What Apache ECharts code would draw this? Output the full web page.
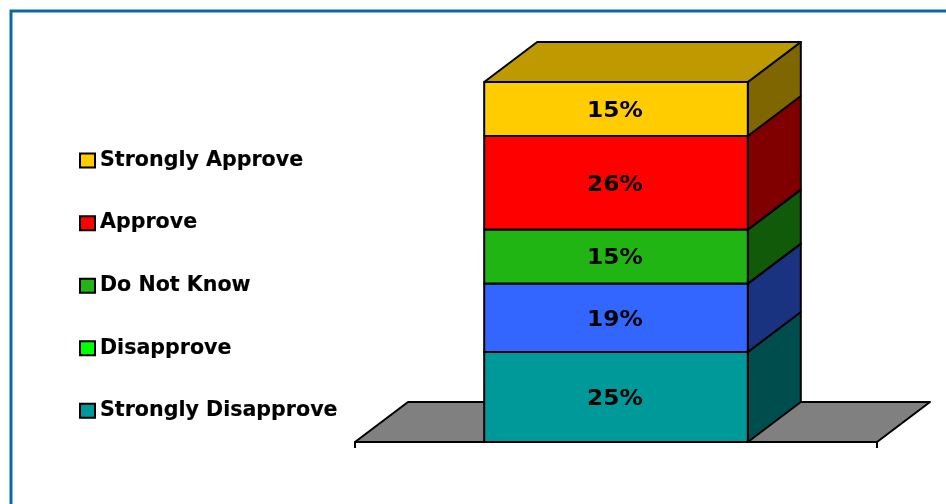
<!DOCTYPE html>
<html>
<head>
<meta charset="utf-8">
<style>html,body{margin:0;padding:0;background:#fff}#c{width:946px;height:504px}</style>
<script src="https://cdn.jsdelivr.net/npm/echarts@6/dist/echarts.min.js"></script>
</head>
<body>
<div id="c"></div>
<script>
const categories = ['Opinion'];
const seriesNames = ['Strongly Disapprove', 'Disapprove', 'Do Not Know', 'Approve', 'Strongly Approve'];
const seriesValues = [25, 19, 15, 26, 15];
const faceColors = ['#009999', '#3366FF', '#20B512', '#FF0000', '#FFCC00'];
const sideColors = ['#004D4D', '#1A3380', '#105A09', '#800000', '#806600'];
const legendColors = ['#009999', '#00FF00', '#20B512', '#FF0000', '#FFCC00'];
const topColor = '#BF9900';
const floorColor = '#808080';
const legendOrder = ['Strongly Approve', 'Approve', 'Do Not Know', 'Disapprove', 'Strongly Disapprove'];

const DX = 53, DY = -40, BAR_RATIO = 0.505;
const line = { stroke: '#000', lineWidth: 2, lineJoin: 'round' };
const FONT = '"DejaVu Sans", Verdana, sans-serif';

function floorItem(params, api) {
  const c = api.coord([0, 0]);
  const w = api.size([1, 0])[0];
  const l = c[0] - w / 2, r = c[0] + w / 2, y = c[1];
  return {
    type: 'polygon',
    shape: { points: [[l, y], [l + DX, y + DY], [r + DX, y + DY], [r, y]] },
    style: Object.assign({ fill: floorColor }, line)
  };
}

function blockItem(idx, isTop) {
  return function (params, api) {
    const c0 = api.coord([0, api.value(1)]);
    const c1 = api.coord([0, api.value(2)]);
    const w = api.size([1, 0])[0] * BAR_RATIO;
    const l = c0[0] - w / 2, r = c0[0] + w / 2, yb = c0[1], yt = c1[1];
    const children = [
      { type: 'polygon', shape: { points: [[r, yb], [r + DX, yb + DY], [r + DX, yt + DY], [r, yt]] },
        style: Object.assign({ fill: sideColors[idx] }, line) },
      { type: 'rect', shape: { x: l, y: yt, width: w, height: yb - yt },
        style: Object.assign({ fill: faceColors[idx] }, line) }
    ];
    if (isTop) {
      children.push({ type: 'polygon',
        shape: { points: [[l, yt], [l + DX, yt + DY], [r + DX, yt + DY], [r, yt]] },
        style: Object.assign({ fill: topColor }, line) });
    }
    children.push({ type: 'text', z2: 10,
      x: (l + r) / 2 - 1, y: (yb + yt) / 2 + 2, scaleX: 1.06,
      style: {
        x: 0, y: 0, text: api.value(3) + '%',
        fill: '#000', font: 'bold 22px ' + FONT, align: 'center', verticalAlign: 'middle' } });
    return { type: 'group', children };
  };
}

let running = 0;
const barSeries = seriesNames.map(function (name, i) {
  const start = running;
  running += seriesValues[i];
  return {
    type: 'custom', name, z: 3 + i,
    coordinateSystem: 'cartesian2d',
    renderItem: blockItem(i, i === seriesNames.length - 1),
    itemStyle: { color: legendColors[i] },
    encode: { x: 0, y: [1, 2] },
    data: [[categories[0], start, running, seriesValues[i]]]
  };
});

const chart = echarts.init(document.getElementById('c'), null, { renderer: 'canvas' });
chart.setOption({
  animation: false,
  backgroundColor: '#fff',
  textStyle: { fontFamily: FONT },
  graphic: [{
    type: 'polyline', silent: true,
    shape: { points: [[11, 504], [11, 11], [946, 11]] },
    style: { stroke: '#0A6AA8', lineWidth: 3, fill: null }
  }],
  grid: { left: 355, width: 522, top: 82, height: 360 },
  xAxis: {
    type: 'category', data: categories, boundaryGap: true,
    axisLine: { show: true, lineStyle: { color: '#000', width: 2 } },
    axisTick: { show: true, length: 6, lineStyle: { color: '#000', width: 2 } },
    axisLabel: { show: false }, z: 2
  },
  yAxis: { type: 'value', min: 0, max: 100, show: false, splitLine: { show: false } },
  legend: {
    orient: 'vertical', left: 79, top: 150,
    data: legendOrder, icon: 'rect', selectedMode: false,
    itemWidth: 15, itemHeight: 14, itemGap: 41.4,
    padding: 0,
    itemStyle: { borderColor: '#000', borderWidth: 2 },
    textStyle: { color: '#000', fontFamily: FONT, fontWeight: 'bold', fontSize: 20.6, padding: [0, 0, 0, 0],
      textBorderColor: '#000', textBorderWidth: 0.15 }
  },
  tooltip: { show: false },
  series: [{
    type: 'custom', name: 'Floor', z: 1, silent: true,
    coordinateSystem: 'cartesian2d',
    renderItem: floorItem,
    encode: { x: 0, y: 1 },
    data: [[categories[0], 0]]
  }].concat(barSeries)
});
</script>
</body>
</html>
